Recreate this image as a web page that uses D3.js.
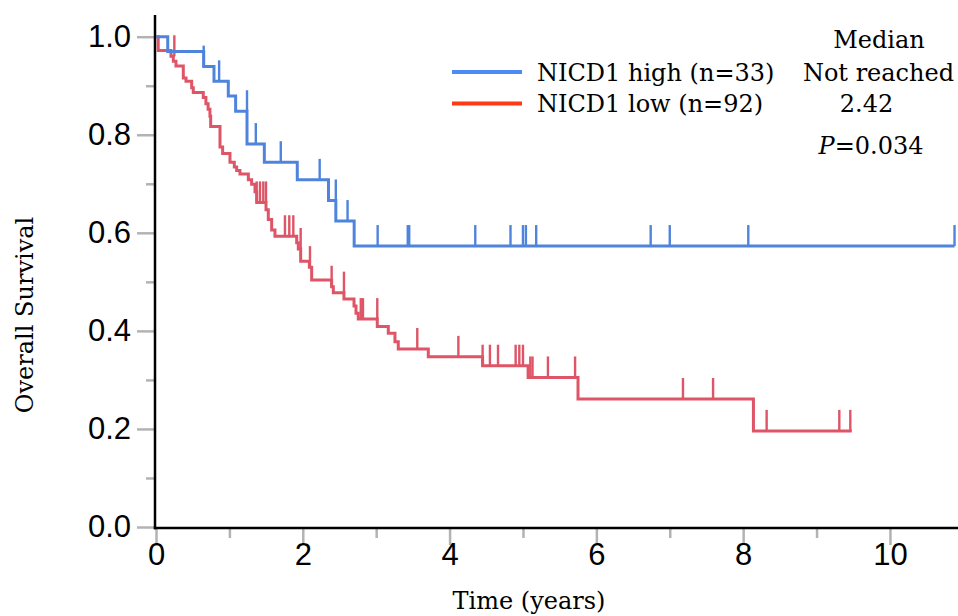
<!DOCTYPE html>
<html><head><meta charset="utf-8">
<script src="https://cdn.jsdelivr.net/npm/d3@7"></script>
<style>body{margin:0;background:#fff}svg{display:block}</style>
</head><body>
<svg id="chart" width="958" height="616"></svg>
<script>
// ---- data ----
const xTickValues = [0, 2, 4, 6, 8, 10];
const xMinorValues = [1, 3, 5, 7, 9];
const yTickValues = [0, 0.2, 0.4, 0.6, 0.8, 1.0];
const yMinorValues = [0.1, 0.3, 0.5, 0.7, 0.9];

// NICD1 high (n=33): step times and survival after each step
const highTimes = [0, 0.16, 0.65, 0.79, 0.985, 1.085, 1.24, 1.476, 1.925, 2.35, 2.45, 2.70];
const highSurv  = [1.0, 0.970, 0.939, 0.909, 0.879, 0.848, 0.781, 0.744, 0.708, 0.666, 0.624, 0.573];
const highEnd = 10.88;
const highCensorTimes = [0.65, 0.86, 1.24, 1.36, 1.70, 2.23, 2.45, 2.61, 3.02, 3.43, 3.45, 4.35, 4.83, 5.00, 5.04, 5.18, 6.74, 7.00, 8.07, 10.88];
const highCensorSurv  = [0.939, 0.909, 0.848, 0.781, 0.744, 0.708, 0.666, 0.624, 0.573, 0.573, 0.573, 0.573, 0.573, 0.573, 0.573, 0.573, 0.573, 0.573, 0.573, 0.573];

// NICD1 low (n=92)
const lowTimes = [0, 0.03, 0.204, 0.236, 0.272, 0.372, 0.409, 0.486, 0.508, 0.644, 0.68, 0.71, 0.735, 0.745, 0.872, 0.908,
  1.008, 1.067, 1.099, 1.144, 1.258, 1.303, 1.349, 1.372, 1.499, 1.530, 1.576, 1.621, 1.917, 1.939, 1.971, 2.09, 2.121,
  2.393, 2.416, 2.561, 2.698, 2.725, 2.756, 3.015, 3.165, 3.256, 3.301, 3.71, 4.45, 5.07, 5.75, 8.14];
const lowSurv = [1.0, 0.972, 0.960, 0.950, 0.940, 0.916, 0.909, 0.896, 0.886, 0.876, 0.863, 0.852, 0.838, 0.817, 0.775, 0.762,
  0.744, 0.734, 0.727, 0.720, 0.708, 0.699, 0.684, 0.662, 0.647, 0.627, 0.606, 0.593, 0.580, 0.567, 0.542, 0.530, 0.504,
  0.490, 0.478, 0.465, 0.451, 0.436, 0.424, 0.409, 0.395, 0.378, 0.363, 0.347, 0.329, 0.305, 0.261, 0.196];
const lowEnd = 9.48;
const lowCensorTimes = [0.25, 1.372, 1.417, 1.462, 1.499, 1.757, 1.816, 1.871, 1.971, 2.098, 2.393, 2.561, 2.79, 2.82, 3.015,
  3.56, 4.12, 4.45, 4.55, 4.66, 4.90, 4.95, 5.00, 5.10, 5.13, 5.34, 5.71, 7.18, 7.59, 8.32, 9.31, 9.46];
const lowCensorSurv = [0.960, 0.662, 0.662, 0.662, 0.662, 0.593, 0.593, 0.593, 0.567, 0.530, 0.490, 0.478, 0.424, 0.424, 0.424,
  0.363, 0.347, 0.329, 0.329, 0.329, 0.329, 0.329, 0.329, 0.305, 0.305, 0.305, 0.305, 0.261, 0.261, 0.196, 0.196, 0.196];

const legendLabels = ["NICD1 high (n=33)", "NICD1 low (n=92)"];
const medianHeader = "Median";
const medianValues = ["Not reached", "2.42"];
const pLabel = ["P", "=0.034"];
const xTitle = "Time (years)";
const yTitle = "Overall Survival";

// ---- drawing ----
const svg = d3.select("#chart");
const x = d3.scaleLinear().domain([0, 10.9]).range([156, 956]);
const y = d3.scaleLinear().domain([0, 1]).range([527, 36.7]);

const tickGrey = "#b3b3b3";
const sansFont = "'Liberation Sans', Arial, sans-serif";
const serifFont = "'DejaVu Serif', serif";

function styleAxis(g) {
  g.select(".domain").remove();
  g.selectAll(".tick line").attr("stroke", tickGrey).attr("stroke-width", 2.5);
  g.selectAll(".tick text").attr("fill", "#000").style("font-family", sansFont).style("font-size", "31px");
}

// minor ticks
svg.append("g").attr("transform", "translate(155,0)")
  .call(d3.axisLeft(y).tickValues(yMinorValues).tickSize(9).tickFormat(""))
  .call(styleAxis);
svg.append("g").attr("transform", "translate(0,528)")
  .call(d3.axisBottom(x).tickValues(xMinorValues).tickSize(10).tickFormat(""))
  .call(styleAxis);
// major ticks
svg.append("g").attr("transform", "translate(155,0)")
  .call(d3.axisLeft(y).tickValues(yTickValues).tickSize(18).tickPadding(6).tickFormat(d3.format(".1f")))
  .call(styleAxis);
svg.append("g").attr("transform", "translate(0,528)")
  .call(d3.axisBottom(x).tickValues(xTickValues).tickSize(17).tickPadding(-2).tickFormat(d3.format("d")))
  .call(styleAxis);

// axis lines
svg.append("line").attr("x1", 155).attr("x2", 155).attr("y1", 15).attr("y2", 529.2)
  .attr("stroke", "#000").attr("stroke-width", 2.5);
svg.append("line").attr("x1", 153.8).attr("x2", 958).attr("y1", 528).attr("y2", 528)
  .attr("stroke", "#000").attr("stroke-width", 2.5);

function drawCurve(times, surv, end, cT, cS, color) {
  const pts = times.map((t, i) => [t, surv[i]]);
  pts.push([end, surv[surv.length - 1]]);
  const line = d3.line().x(d => x(d[0])).y(d => y(d[1])).curve(d3.curveStepAfter);
  svg.append("path").datum(pts).attr("d", line)
    .attr("fill", "none").attr("stroke", color).attr("stroke-width", 3);
  svg.append("g").selectAll("line").data(cT.map((t, i) => [t, cS[i]])).join("line")
    .attr("x1", d => x(d[0])).attr("x2", d => x(d[0]))
    .attr("y1", d => y(d[1])).attr("y2", d => y(d[1]) - 21)
    .attr("stroke", color).attr("stroke-width", 2.4);
}
drawCurve(lowTimes, lowSurv, lowEnd, lowCensorTimes, lowCensorSurv, "#dd5566");
drawCurve(highTimes, highSurv, highEnd, highCensorTimes, highCensorSurv, "#4f84dd");

// legend
const legendColors = ["#4b8bf3", "#ff3a12"];
const legendY = [72, 103.5];
legendLabels.forEach((lab, i) => {
  svg.append("line").attr("x1", 452).attr("x2", 522).attr("y1", legendY[i]).attr("y2", legendY[i])
    .attr("stroke", legendColors[i]).attr("stroke-width", 4);
  svg.append("text").attr("x", 537).attr("y", legendY[i] + 8.5).text(lab)
    .style("font-family", serifFont).style("font-size", "24px").attr("fill", "#000");
});
svg.append("text").attr("x", 879).attr("y", 48).attr("text-anchor", "middle").text(medianHeader)
  .style("font-family", serifFont).style("font-size", "24px");
svg.append("text").attr("x", 878.5).attr("y", 80.5).attr("text-anchor", "middle").text(medianValues[0])
  .style("font-family", serifFont).style("font-size", "24px");
svg.append("text").attr("x", 866.5).attr("y", 112).attr("text-anchor", "middle").text(medianValues[1])
  .style("font-family", serifFont).style("font-size", "24px");
const pt = svg.append("text").attr("x", 871).attr("y", 153.5).attr("text-anchor", "middle")
  .style("font-family", serifFont).style("font-size", "24px");
pt.append("tspan").style("font-style", "italic").text(pLabel[0]);
pt.append("tspan").text(pLabel[1]);

// axis titles
svg.append("text").attr("x", 529).attr("y", 609).attr("text-anchor", "middle").text(xTitle)
  .style("font-family", serifFont).style("font-size", "24px");
svg.append("text").attr("transform", "translate(33,315) rotate(-90)").attr("text-anchor", "middle").text(yTitle)
  .style("font-family", serifFont).style("font-size", "24px");
</script>
</body></html>
